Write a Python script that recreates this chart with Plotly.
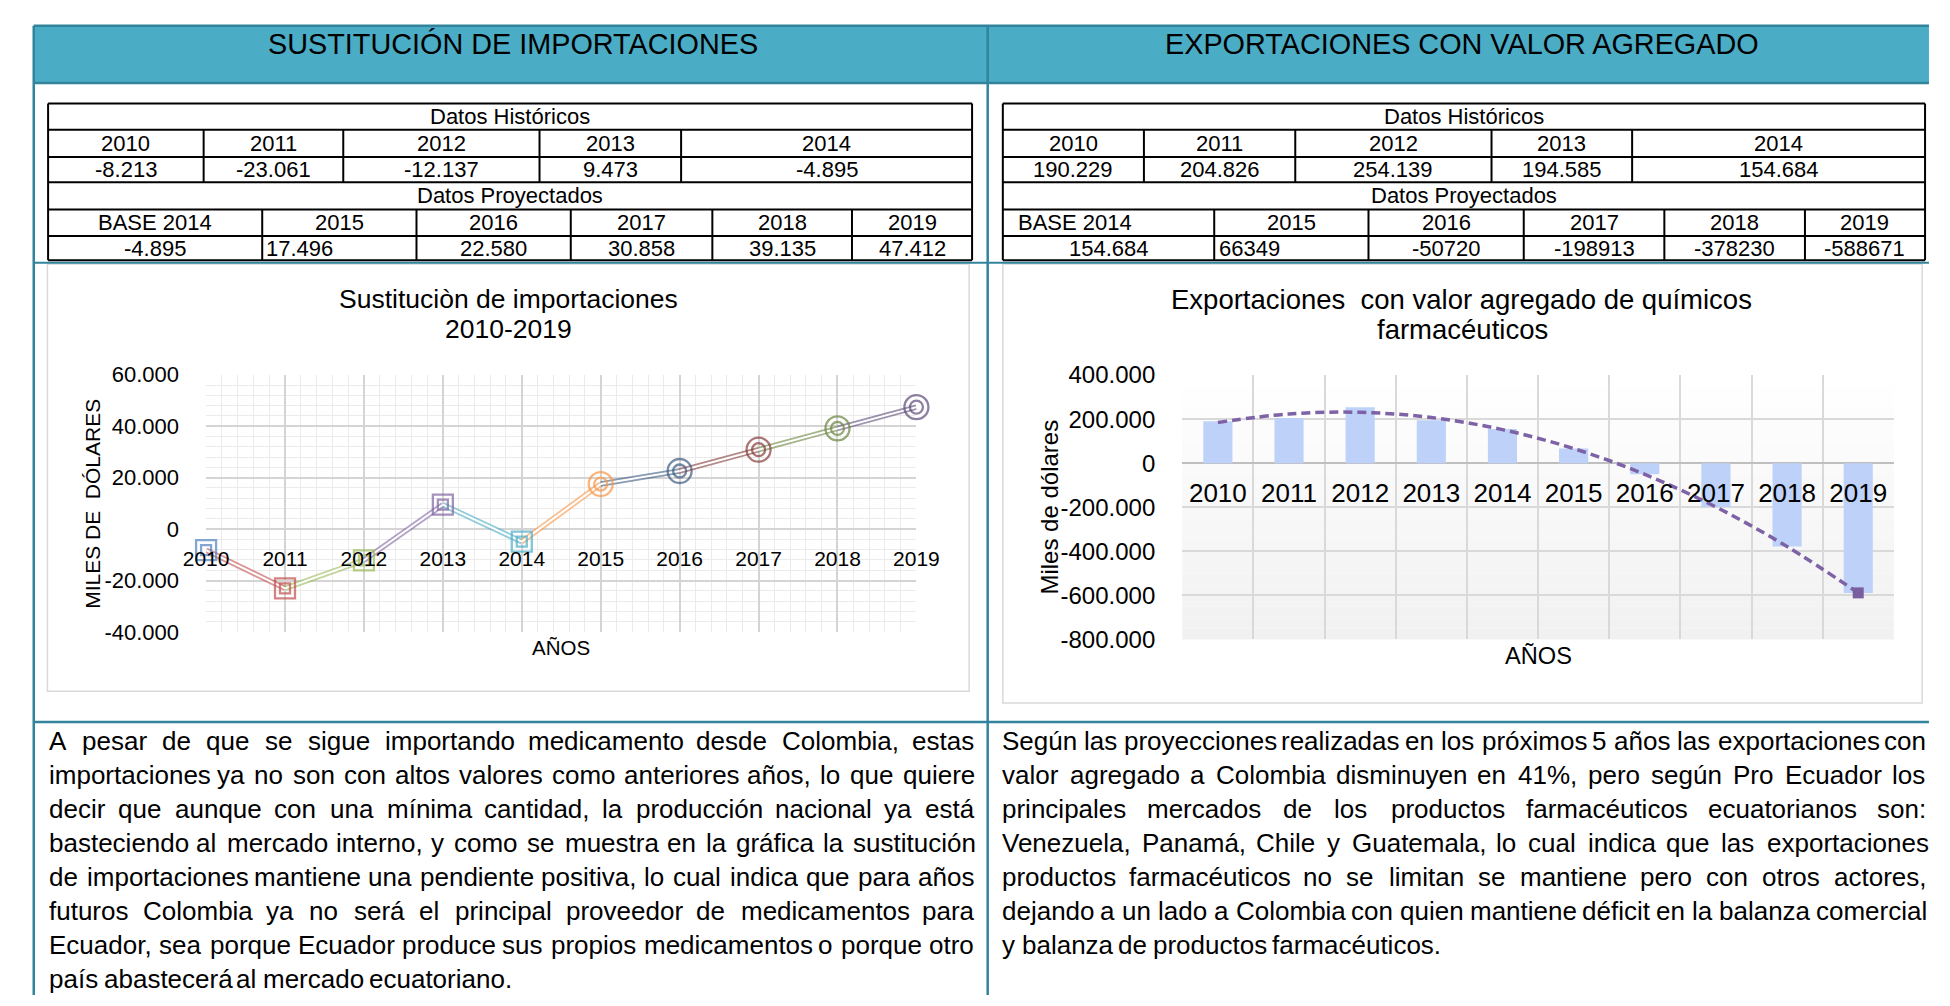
import numpy as np
import plotly.graph_objects as go

# ---------------- data ----------------
years = [2010, 2011, 2012, 2013, 2014, 2015, 2016, 2017, 2018, 2019]
hist_years = years[:5]
proj_labels = ["BASE 2014", "2015", "2016", "2017", "2018", "2019"]

sust_hist = [-8213, -23061, -12137, 9473, -4895]
sust_proj = [17496, 22580, 30858, 39135, 47412]

exp_hist = [190229, 204826, 254139, 194585, 154684]
exp_proj = [66349, -50720, -198913, -378230, -588671]

sust_ticks = [-40000, -20000, 0, 20000, 40000, 60000]
exp_ticks = [-800000, -600000, -400000, -200000, 0, 200000, 400000]

point_colors = ["#4F81BD", "#C0504D", "#9BBB59", "#8064A2", "#4BACC6",
                "#F79646", "#3B5A82", "#843C3A", "#6B8440", "#5C4A78"]
point_symbols = ["square-open"] * 5 + ["circle-open"] * 5

left_text = [
    "A pesar de que se sigue importando medicamento desde Colombia, estas",
    "importaciones ya no son con altos valores como anteriores años, lo que quiere",
    "decir que aunque con una mínima cantidad, la producción nacional ya está",
    "basteciendo al mercado interno, y como se muestra en la gráfica la sustitución",
    "de importaciones mantiene una pendiente positiva, lo cual indica que para años",
    "futuros Colombia ya no será el principal proveedor de medicamentos para",
    "Ecuador, sea porque Ecuador produce sus propios medicamentos o porque otro",
    "país abastecerá al mercado ecuatoriano.",
]
right_text = [
    "Según las proyecciones realizadas en los próximos 5 años las exportaciones con",
    "valor agregado a Colombia disminuyen en 41%, pero según Pro Ecuador los",
    "principales mercados de los productos farmacéuticos ecuatorianos son:",
    "Venezuela, Panamá, Chile y Guatemala, lo cual indica que las exportaciones",
    "productos farmacéuticos no se limitan se mantiene pero con otros actores,",
    "dejando a un lado a Colombia con quien mantiene déficit en la balanza comercial",
    "y balanza de productos farmacéuticos.",
]

# ---------------- helpers ----------------
W_PX, H_PX = 1950, 1006
FONT = "Liberation Sans, Arial, sans-serif"
TEAL = "#4BACC6"
TEAL_DARK = "#31849B"


def X(px):
    return px / W_PX


def Y(py):
    return 1 - py / H_PX


def fmt_th(v):
    return f"{v:,}".replace(",", ".")


shapes = []
annotations = []


def line(x0, y0, x1, y1, color, w):
    shapes.append(dict(type="line", xref="paper", yref="paper",
                       x0=X(x0), x1=X(x1), y0=Y(y0), y1=Y(y1),
                       line=dict(color=color, width=w), layer="above"))


def rect(x0, y0, x1, y1, fill=None, color=None, w=0, layer="below"):
    shapes.append(dict(type="rect", xref="paper", yref="paper",
                       x0=X(x0), x1=X(x1), y0=Y(y1), y1=Y(y0),
                       fillcolor=fill if fill else "rgba(0,0,0,0)",
                       line=dict(color=color if color else "rgba(0,0,0,0)", width=w),
                       layer=layer))


def text(px, py, s, size, xanchor="center", angle=0, color="#000000"):
    annotations.append(dict(xref="paper", yref="paper", x=X(px), y=Y(py), text=s,
                            showarrow=False, xanchor=xanchor, yanchor="middle",
                            textangle=angle, borderpad=0,
                            font=dict(family=FONT, size=size, color=color)))


# Arial / Liberation Sans advance widths (1/1000 em)
AW = {" ": 278, ",": 278, ".": 278, ":": 278, ";": 278, "%": 889, "-": 333}
for ch in "0123456789":
    AW[ch] = 556
AW.update(dict(a=556, b=556, c=500, d=556, e=556, f=278, g=556, h=556, i=222, j=222,
               k=500, l=222, m=833, n=556, o=556, p=556, q=556, r=333, s=500, t=278,
               u=556, v=500, w=722, x=500, y=500, z=500))
AW.update(dict(A=667, B=667, C=722, D=722, E=667, F=611, G=778, H=722, I=278, J=500,
               K=667, L=556, M=833, N=722, O=778, P=667, Q=778, R=722, S=667, T=611,
               U=722, V=667, W=944, X=667, Y=667, Z=611))
AW.update({"á": 556, "é": 556, "í": 278, "ó": 556, "ú": 556, "ñ": 556})


def tw(s, fs):
    return sum(AW.get(c, 556) for c in s) / 1000 * fs


def paragraph(lines, x0, x1, y0, lh, fs):
    for k, ln in enumerate(lines):
        words = ln.split(" ")
        widths = [tw(wd, fs) for wd in words]
        if k == len(lines) - 1 or len(words) == 1:
            gap = tw(" ", fs)
        else:
            gap = (x1 - x0 - sum(widths)) / (len(words) - 1)
        x = x0
        for wd, wpx in zip(words, widths):
            text(x, y0 + k * lh, wd, fs, xanchor="left")
            x += wpx + gap


# ---------------- frame / panels ----------------
rect(11, 12, 1952, 71, fill=TEAL)
line(11, 12, 1952, 12, TEAL_DARK, 2.5)
line(11, 71, 1952, 71, TEAL_DARK, 2.5)
line(11, 12, 11, 1008, TEAL_DARK, 2.5)
line(988, 12, 988, 1008, TEAL_DARK, 2.5)
line(11, 255.5, 1952, 255.5, TEAL_DARK, 2)
line(11, 727.5, 1952, 727.5, TEAL_DARK, 2.5)

text(502, 31, "SUSTITUCIÓN DE IMPORTACIONES", 28.8)
text(1474, 31, "EXPORTACIONES CON VALOR AGREGADO", 28.8)

# ---------------- tables ----------------
rows = [92, 119, 147, 173, 201, 228, 253]


def table(x0, x1, hist_cols, proj_cols, hist_vals, proj_vals, left_align):
    for r in rows:
        line(x0, r, x1, r, "#000000", 2)
    line(x0, rows[0], x0, rows[-1], "#000000", 2)
    line(x1, rows[0], x1, rows[-1], "#000000", 2)
    for c in hist_cols[1:-1]:
        line(c, rows[1], c, rows[3], "#000000", 2)
    for c in proj_cols[1:-1]:
        line(c, rows[4], c, rows[6], "#000000", 2)
    fs = 22
    text((x0 + x1) / 2, (rows[0] + rows[1]) / 2, "Datos Históricos", fs)
    text((x0 + x1) / 2, (rows[3] + rows[4]) / 2, "Datos Proyectados", fs)
    for i, yv in enumerate(hist_years):
        cx = (hist_cols[i] + hist_cols[i + 1]) / 2
        text(cx, (rows[1] + rows[2]) / 2, str(yv), fs)
        text(cx, (rows[2] + rows[3]) / 2, hist_vals[i], fs)
    for i in range(6):
        cx = (proj_cols[i] + proj_cols[i + 1]) / 2
        for rr, s in ((4, proj_labels[i]), (5, proj_vals[i])):
            cy = (rows[rr] + rows[rr + 1]) / 2
            pad = left_align.get((rr, i))
            if pad is not None:
                text(proj_cols[i] + pad, cy, s, fs, xanchor="left")
            else:
                text(cx, cy, s, fs)


table(25.7, 972, [25.7, 185, 328, 529, 674, 972],
      [25.7, 245, 403, 561, 706, 849, 972],
      [fmt_th(v) for v in sust_hist],
      [fmt_th(sust_hist[-1])] + [fmt_th(v) for v in sust_proj],
      {(5, 1): 3})
table(1003.5, 1948, [1003.5, 1148, 1303, 1504, 1648, 1948],
      [1003.5, 1220, 1378, 1537, 1681, 1825, 1948],
      [fmt_th(v) for v in exp_hist],
      [fmt_th(exp_hist[-1])] + [str(v) for v in exp_proj],
      {(4, 0): 15, (5, 1): 4})

# ---------------- chart boxes ----------------
rect(25, 257, 969, 696, color="#D9D9D9", w=1.5)
rect(1003.5, 257, 1945, 708, color="#D9D9D9", w=1.5)

# ---------------- left chart ----------------
L_X0, L_X1, L_Y0, L_Y1 = 187.5, 915, 370.7, 635
l_ymin, l_ymax = -40000, 60000
l_dom_y = [Y(L_Y1), Y(L_Y0)]
l_zero = l_dom_y[0] + (0 - l_ymin) / (l_ymax - l_ymin) * (l_dom_y[1] - l_dom_y[0])

sust_all = sust_hist + sust_proj

fig = go.Figure()
for i in range(1, len(years)):
    fig.add_trace(go.Scatter(x=[years[i - 1], years[i]], y=[sust_all[i - 1], sust_all[i]],
                             mode="lines", line=dict(color=point_colors[i], width=5.5),
                             opacity=0.6, cliponaxis=False, showlegend=False,
                             hoverinfo="skip", xaxis="x", yaxis="y"))
for i in range(1, len(years)):
    fig.add_trace(go.Scatter(x=[years[i - 1], years[i]], y=[sust_all[i - 1], sust_all[i]],
                             mode="lines", line=dict(color="white", width=2),
                             cliponaxis=False, showlegend=False, hoverinfo="skip",
                             xaxis="x", yaxis="y"))
outer_sizes = [20 if s.startswith("square") else 24 for s in point_symbols]
inner_sizes = [10 if s.startswith("square") else 13 for s in point_symbols]
for sizes in (outer_sizes, inner_sizes):
    fig.add_trace(go.Scatter(x=years, y=sust_all, mode="markers",
                             marker=dict(symbol=point_symbols, size=sizes,
                                         color=point_colors, line=dict(width=2.3)),
                             cliponaxis=False, showlegend=False, xaxis="x", yaxis="y"))

text(497, 293, "Sustituciòn de importaciones", 26.5)
text(497, 324, "2010-2019", 26.5)
text(551, 651, "AÑOS", 20.5)
text(71, 503, "MILES DE\u00a0 DÓLARES", 21, angle=-90)

# ---------------- right chart ----------------
R_X0, R_X1, R_Y0, R_Y1 = 1187.3, 1916, 371, 642.7
r_ymin, r_ymax = -800000, 400000
r_dom_y = [Y(R_Y1), Y(R_Y0)]
r_zero = r_dom_y[0] + (0 - r_ymin) / (r_ymax - r_ymin) * (r_dom_y[1] - r_dom_y[0])

exp_all = exp_hist + exp_proj
cats = [str(y) for y in years]
idx = np.arange(len(exp_all))
trend = np.polyval(np.polyfit(idx, exp_all, 2), idx)

# soft vertical background gradient of the plot area
nb = 24
for k in range(nb):
    t = (k + 0.5) / nb
    g = int(round(241 + (255 - 241) * t))
    shapes.append(dict(type="rect", xref="x2 domain", yref="y2 domain",
                       x0=0, x1=1, y0=k / nb, y1=(k + 1) / nb,
                       fillcolor=f"rgb({g},{g},{g})", line=dict(width=0), layer="below"))

fig.add_trace(go.Bar(x=cats, y=exp_all, width=0.41,
                     marker=dict(color="#BED2F9", line=dict(width=0)),
                     showlegend=False, xaxis="x2", yaxis="y2"))
fig.add_trace(go.Scatter(x=cats, y=trend, mode="lines",
                         line=dict(color="#7E62A6", width=3.5, dash="9px,5px", shape="spline"),
                         showlegend=False, hoverinfo="skip", xaxis="x2", yaxis="y2"))
fig.add_trace(go.Scatter(x=[cats[-1]], y=[exp_all[-1]], mode="markers",
                         marker=dict(symbol="square", size=11, color="#7A5FA0"),
                         cliponaxis=False, showlegend=False, xaxis="x2", yaxis="y2"))

text(1473, 293, "Exportaciones\u00a0 con valor agregado de químicos", 27.5)
text(1474, 324, "farmacéuticos", 27.5)
text(1552, 660, "AÑOS", 23.6)
text(1051, 507, "Miles de dólares", 24, angle=-90)

# ---------------- paragraphs ----------------
paragraph(left_text, 25.3, 972, 746.7, 35, 26)
paragraph(right_text, 1002, 1946.5, 746.7, 35, 26)

# ---------------- layout ----------------
fig.update_layout(
    width=W_PX, height=H_PX,
    margin=dict(l=0, r=0, t=0, b=0),
    paper_bgcolor="white", plot_bgcolor="rgba(0,0,0,0)",
    showlegend=False, bargap=0.59,
    font=dict(family=FONT, color="#000000"),
    xaxis=dict(domain=[X(L_X0), X(L_X1)], range=[years[0], years[-1]],
               tickmode="linear", tick0=years[0], dtick=1, tickformat="d",
               showgrid=True, gridcolor="#D4D4D4", gridwidth=1.5,
               minor=dict(dtick=0.2, tick0=years[0], showgrid=True,
                          gridcolor="#EBEBEB", gridwidth=1),
               zeroline=False, showline=False, ticks="",
               anchor="free", position=l_zero, ticklabelstandoff=15,
               tickfont=dict(size=21, color="#000000"), fixedrange=True),
    yaxis=dict(domain=l_dom_y, range=[l_ymin, l_ymax],
               tickmode="array", tickvals=sust_ticks,
               ticktext=[fmt_th(v) for v in sust_ticks],
               showgrid=True, gridcolor="#D4D4D4", gridwidth=1.5,
               minor=dict(tickmode="linear", tick0=l_ymin, dtick=4000, showgrid=True,
                          gridcolor="#EBEBEB", gridwidth=1),
               zeroline=True, zerolinecolor="#D4D4D4", zerolinewidth=1.5,
               showline=False, ticks="", ticklabelstandoff=26,
               tickfont=dict(size=22, color="#000000"), anchor="x", fixedrange=True),
    xaxis2=dict(domain=[X(R_X0), X(R_X1)], type="category", range=[-0.5, 9.5],
                tickson="boundaries", showgrid=True, gridcolor="#D9D9D9", gridwidth=1.5,
                zeroline=False, showline=False, ticks="",
                anchor="free", position=r_zero, ticklabelstandoff=12,
                tickfont=dict(size=26, color="#000000"), fixedrange=True),
    yaxis2=dict(domain=r_dom_y, range=[r_ymin, r_ymax],
                tickmode="array", tickvals=exp_ticks,
                ticktext=[fmt_th(v) for v in exp_ticks],
                showgrid=True, gridcolor="#D9D9D9", gridwidth=1.5,
                zeroline=True, zerolinecolor="#BFBFBF", zerolinewidth=2,
                showline=False, ticks="", ticklabelstandoff=26,
                tickfont=dict(size=24, color="#000000"), anchor="x2", fixedrange=True),
    shapes=shapes,
    annotations=annotations,
)

fig.write_html("out.html", config={"displayModeBar": False},
               post_script="document.body.style.margin='0';document.body.style.overflow='hidden';")
